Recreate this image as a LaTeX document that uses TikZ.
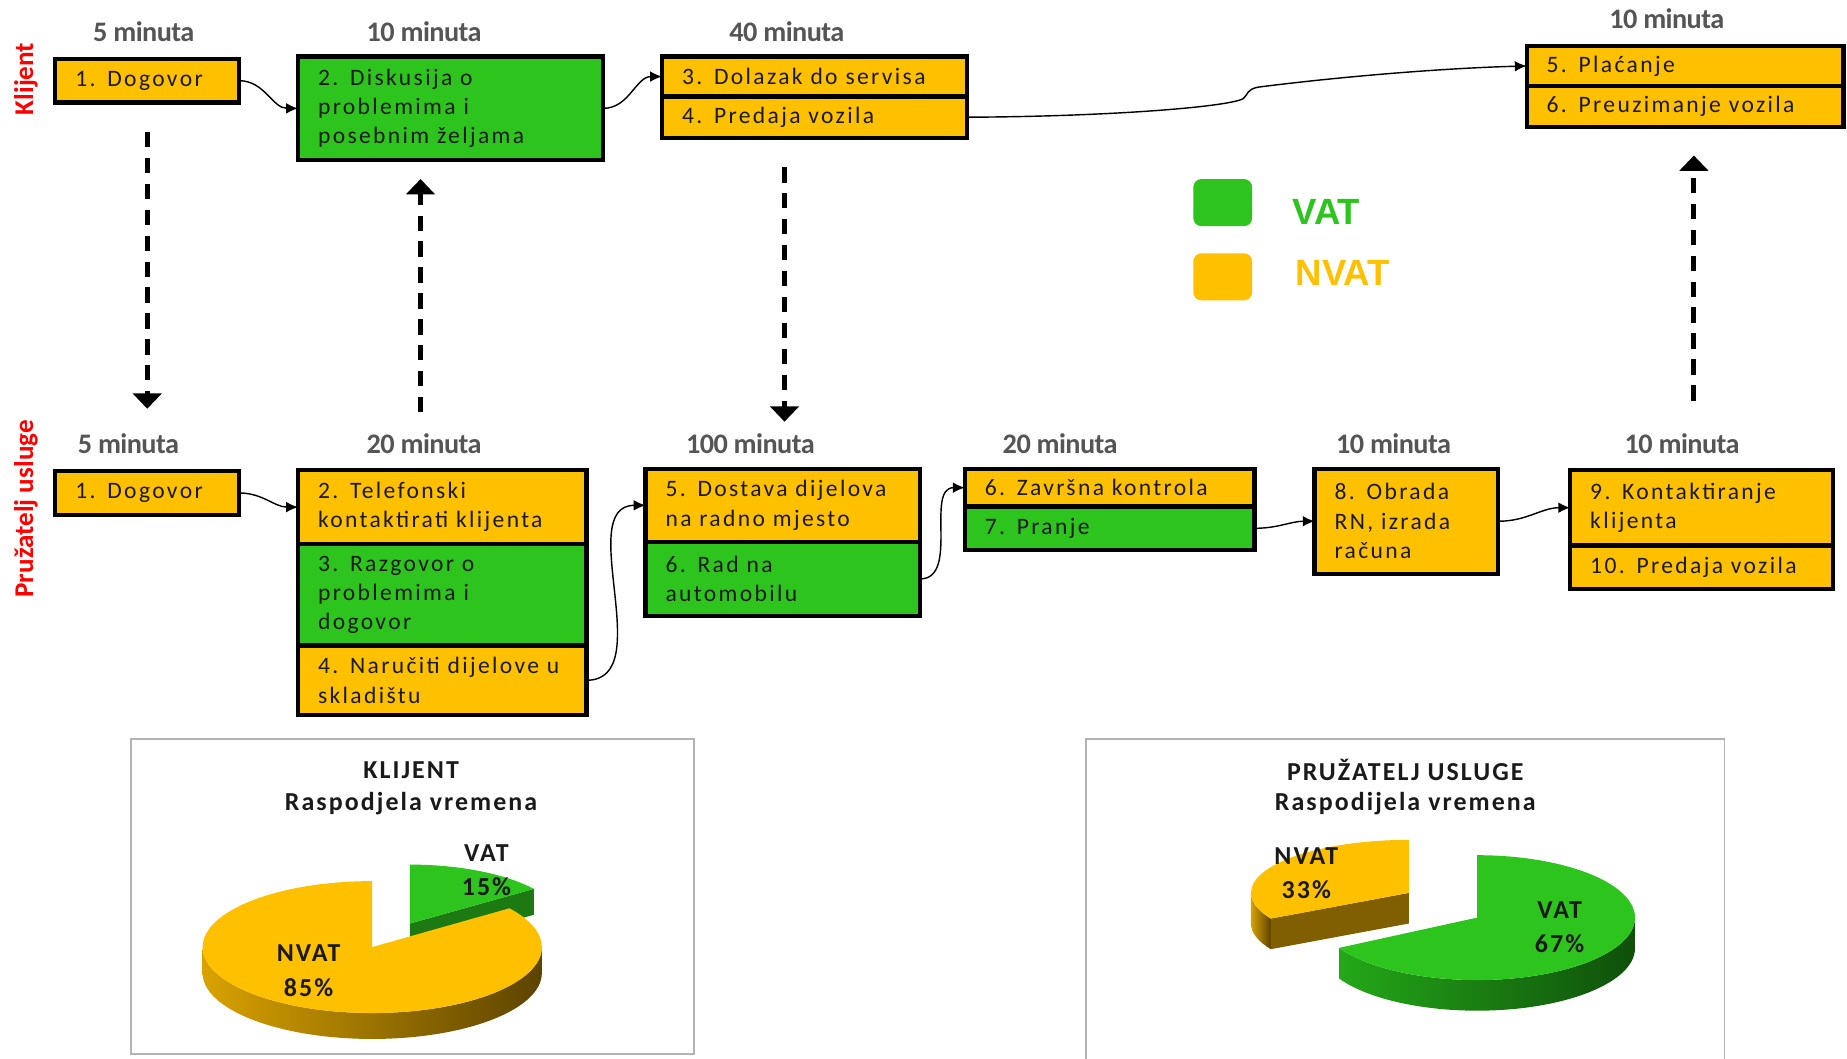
\documentclass[tikz,border=0pt]{standalone}
\usepackage{fontspec}
\setmainfont{Carlito}
\newfontfamily\cellfont[LetterSpace=10]{Carlito}
\newfontfamily\minfont[LetterSpace=-2]{Carlito}
\newfontfamily\titfont[LetterSpace=8]{Carlito}
\newfontfamily\legfont{Liberation Sans}
\usetikzlibrary{arrows.meta,positioning}

\definecolor{nvat}{HTML}{FFC000}
\definecolor{vat}{HTML}{2EC41E}
\definecolor{txt}{HTML}{1A1A1A}
\definecolor{mingray}{HTML}{555555}
\definecolor{frm}{HTML}{B3B3B3}
\definecolor{nvatside}{HTML}{D9A200}
\definecolor{nvatshadow}{HTML}{5C4300}
\definecolor{nvatdark}{HTML}{7F5F00}
\definecolor{vatside}{HTML}{24A818}
\definecolor{vatshadow}{HTML}{0F4F0A}
\definecolor{vatdark}{HTML}{1D7A12}

\tikzset{
  cell/.style={draw, line width=1.8pt, outer sep=0pt, inner xsep=8.5pt, inner ysep=1pt,
    align=left, text=txt, font=\cellfont\fontsize{10pt}{12.5pt}\selectfont},
  minlbl/.style={text=mingray, font=\minfont\bfseries\fontsize{12pt}{14pt}\selectfont},
  sidelbl/.style={rotate=90, text=red, font=\bfseries\fontsize{11.5pt}{13pt}\selectfont},
  flow/.style={line width=0.6pt, -{Latex[length=5pt,width=4.5pt]}},
  dasharr/.style={line width=2.2pt, dash pattern=on 6.5pt off 4.5pt, -{Triangle[width=12pt,length=6.5pt]}},
  legsq/.style={minimum width=25pt, minimum height=20pt, inner sep=0pt, rounded corners=3.5pt},
  legtxt/.style={font=\legfont\bfseries\fontsize{15.5pt}{18pt}\selectfont},
  ttl/.style={text=txt, font=\titfont\bfseries\fontsize{11pt}{13pt}\selectfont},
  plbl/.style={align=center, text=txt, font=\titfont\bfseries\fontsize{11pt}{14.5pt}\selectfont},
}

\begin{document}
\begin{tikzpicture}[x=0.5pt, y=-0.5pt]
\useasboundingbox[fill=white] (0,0) rectangle (1568,899);

% side labels
\node[sidelbl] (sK) at (22,67) {Klijent};
\node[sidelbl] (sP) at (22,432) {Pružatelj usluge};

% klijent
\node[minlbl] (tK1) at (122,27) {5 minuta};
\node[cell, fill=nvat, anchor=north west, text width=61pt, minimum height=18.5pt] (K1) at (47,50) {1. Dogovor};
\node[minlbl] (tK2) at (360,27) {10 minuta};
\node[cell, fill=vat, anchor=north west, text width=112.5pt, minimum height=44pt] (K2) at (253,48) {2. Diskusija o\\ problemima i\\ posebnim željama};
\node[minlbl] (tK3) at (668,27) {40 minuta};
\node[cell, fill=nvat, anchor=north west, text width=112.5pt, minimum height=17pt] (K3) at (562,48) {3. Dolazak do servisa};
\node[cell, fill=nvat, below=0pt of K3, text width=112.5pt, minimum height=17.5pt] (K4) {4. Predaja vozila};
\node[minlbl] (tK5) at (1415,16) {10 minuta};
\node[cell, fill=nvat, anchor=north west, text width=117.5pt, minimum height=17pt] (K5) at (1296,39) {5. Plaćanje};
\node[cell, fill=nvat, below=0pt of K5, text width=117.5pt, minimum height=17.5pt] (K6) {6. Preuzimanje vozila};

% pruzatelj usluge
\node[minlbl] (tP1) at (109,377) {5 minuta};
\node[cell, fill=nvat, anchor=north west, text width=61pt, minimum height=18.5pt] (P1) at (47,400) {1. Dogovor};
\node[minlbl] (tP2) at (360,377) {20 minuta};
\node[cell, fill=nvat, anchor=north west, text width=105.5pt, minimum height=31.5pt] (P2) at (253,399) {2. Telefonski\\ kontaktirati klijenta};
\node[cell, fill=vat, below=0pt of P2, text width=105.5pt, minimum height=43pt] (P3) {3. Razgovor o\\ problemima i\\ dogovor};
\node[cell, fill=nvat, below=0pt of P3, text width=105.5pt, minimum height=29.5pt] (P4) {4. Naručiti dijelove u\\ skladištu};
\node[minlbl] (tP5) at (637,377) {100 minuta};
\node[cell, fill=nvat, anchor=north west, text width=99.5pt, minimum height=31pt] (P5) at (548,398) {5. Dostava dijelova\\ na radno mjesto};
\node[cell, fill=vat, below=0pt of P5, text width=99.5pt, minimum height=31.5pt] (P6) {6. Rad na\\ automobilu};
\node[minlbl] (tP7) at (900,377) {20 minuta};
\node[cell, fill=nvat, anchor=north west, text width=106pt, minimum height=16pt] (P7a) at (819,398) {6. Završna kontrola};
\node[cell, fill=vat, below=0pt of P7a, text width=106pt, minimum height=18.5pt] (P7) {7. Pranje};
\node[minlbl] (tP8) at (1183,377) {10 minuta};
\node[cell, fill=nvat, anchor=north west, text width=61pt, minimum height=44.5pt] (P8) at (1116,398) {8. Obrada\\ RN, izrada\\ računa};
\node[minlbl] (tP9) at (1428,377) {10 minuta};
\node[cell, fill=nvat, anchor=north west, text width=94.5pt, minimum height=32pt] (P9) at (1333,399) {9. Kontaktiranje\\ klijenta};
\node[cell, fill=nvat, below=0pt of P9, text width=94.5pt, minimum height=18.5pt] (P10) {10. Predaja vozila};

% flow
\draw[flow] (K1.east) to[out=0,in=180] (K2.west);
\draw[flow] (K2.east) to[out=0,in=180] (K3.west);
\coordinate (kinkA) at (1055,84);
\coordinate (kinkB) at (1068,74);
\draw[flow] (K4.east) .. controls (940,99) and (1040,91) .. (kinkA) .. controls (1060,80) and (1058,76) .. (kinkB) .. controls (1130,66) and (1220,58) .. (K5.west);
\draw[flow] (P1.east) to[out=0,in=180] (P2.west);
\draw[flow] (P4.east) to[out=0,in=180] (P5.west);
\draw[flow] (P6.east) to[out=0,in=180] (P7a.west);
\draw[flow] (P7.east) to[out=0,in=180] (P8.west);
\draw[flow] (P8.east) to[out=0,in=180] (P9.west);

% between rows
\draw[dasharr] ([yshift=-12.5pt]K1.south) -- ([yshift=26.5pt]P1.north);
\draw[dasharr] ([xshift=-9.25pt,yshift=24.5pt]P2.north) -- ([xshift=-12.75pt,yshift=-8pt]K2.south);
\draw[dasharr] ([xshift=-12.75pt,yshift=-12.5pt]K4.south) -- ([xshift=0.75pt,yshift=20pt]P5.north);
\draw[dasharr] ([xshift=-3.25pt,yshift=29.5pt]P9.north) -- ([xshift=3.75pt,yshift=-12pt]K6.south);

% legend
\node[legsq, fill=vat] (lgV) at (1038,172) {};
\node[legsq, fill=nvat] (lgN) at (1038,235) {};
\node[legtxt, text=vat] (lgVt) at (1126,180) {VAT};
\node[legtxt, text=nvat] (lgNt) at (1140,232) {NVAT};

% charts
\draw[frm, line width=0.8pt] (111,627) rectangle (589,895);
\draw[frm, line width=0.8pt] (922,899) -- (922,627) -- (1464,627) -- (1464,899);
\node[ttl] (ttK) at (349,654) {KLIJENT};
\node[ttl] (ttKs) at (349,682) {Raspodjela vremena};
\node[ttl] (ttP) at (1193,654) {PRUŽATELJ USLUGE};
\node[ttl] (ttPs) at (1193,682) {Raspodijela vremena};

% klijent pie
\begin{scope}[shift={(348,784)}, yscale=-1]
  \fill[vatdark] (0,0) -- (105.2,29.4) -- (105.2,7.4) -- (0,-22) -- cycle;
  \fill[vat] (0,0) -- (105.2,29.4) arc[start angle=36, end angle=90, x radius=130, y radius=50] -- cycle;
\end{scope}
\begin{scope}[shift={(316,804)}, yscale=-1]
  \shade[left color=nvatside, right color=nvatshadow] (-144,0) arc[start angle=180, end angle=360, x radius=144, y radius=56] -- (144,-22) arc[start angle=360, end angle=180, x radius=144, y radius=56] -- cycle;
  \fill[nvat] (0,0) -- (0,56) arc[start angle=90, end angle=396, x radius=144, y radius=56] -- cycle;
\end{scope}
\node[plbl] (pKv) at (413,739) {VAT\\15\%};
\node[plbl] (pKn) at (262,824) {NVAT\\85\%};

% pruzatelj pie
\begin{scope}[shift={(1196,758)}, yscale=-1]
  \shade[left color=nvatside, right color=nvatshadow] (-134,0) arc[start angle=180, end angle=209, x radius=134, y radius=45] -- ++(0,-26) arc[start angle=209, end angle=180, x radius=134, y radius=45] -- cycle;
  \fill[nvatdark] (0,0) -- (-117.2,-21.8) -- (-117.2,-47.8) -- (0,-26) -- cycle;
  \fill[nvat] (0,0) -- (0,45) arc[start angle=90, end angle=209, x radius=134, y radius=45] -- cycle;
\end{scope}
\begin{scope}[shift={(1254,779)}, yscale=-1]
  \shade[left color=vatside, right color=vatshadow] (-117.2,-25.7) arc[start angle=209, end angle=360, x radius=134, y radius=53] -- ++(0,-26) arc[start angle=360, end angle=209, x radius=134, y radius=53] -- cycle;
  \fill[vat] (0,0) -- (-117.2,-25.7) arc[start angle=209, end angle=450, x radius=134, y radius=53] -- cycle;
\end{scope}
\node[plbl] (pPn) at (1109,741) {NVAT\\33\%};
\node[plbl] (pPv) at (1324,787) {VAT\\67\%};
\end{tikzpicture}
\end{document}
